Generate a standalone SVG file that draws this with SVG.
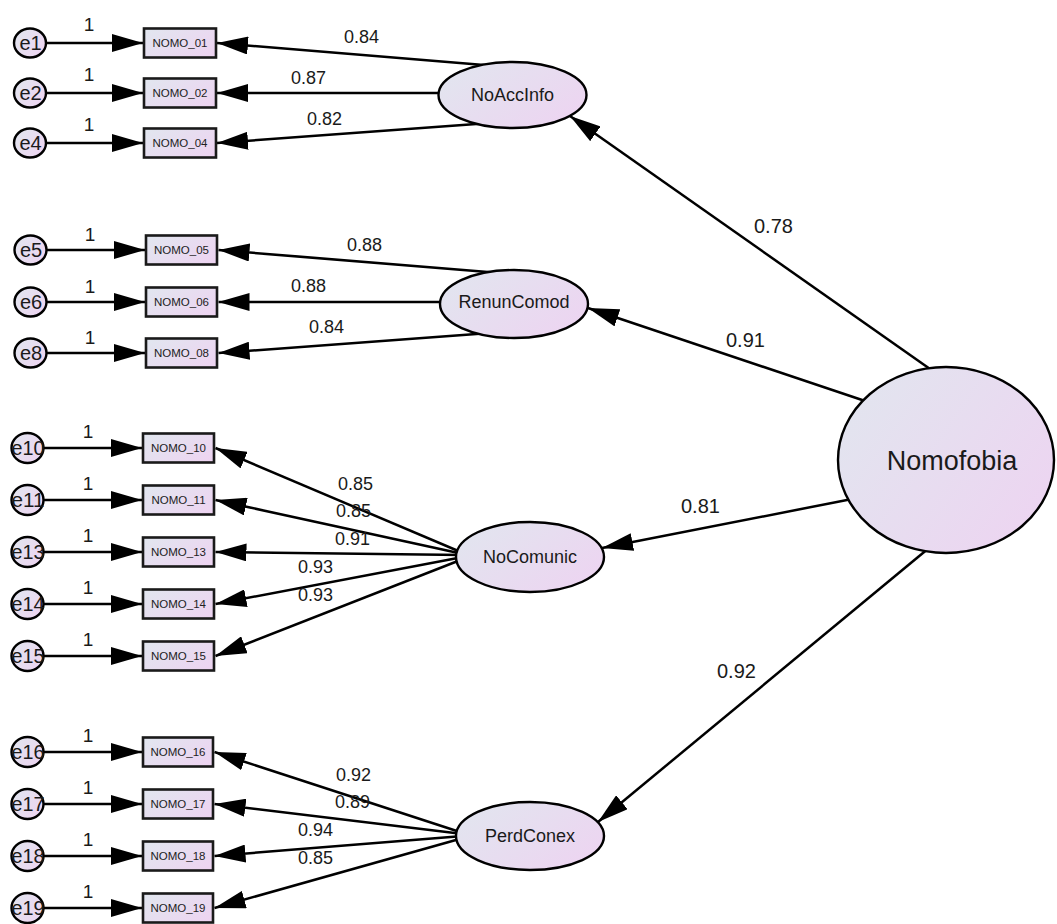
<svg xmlns="http://www.w3.org/2000/svg" width="1057" height="924" viewBox="0 0 1057 924">
<defs>
<linearGradient id="g" x1="0" y1="0.2" x2="1" y2="0.8">
<stop offset="0" stop-color="#e2e5ef"/>
<stop offset="1" stop-color="#edd4f1"/>
</linearGradient>
<marker id="ah" viewBox="0 0 31 18" refX="31" refY="9" markerWidth="31" markerHeight="18" markerUnits="userSpaceOnUse" orient="auto">
<path d="M0,0 L31,9 L0,18 z" fill="#000"/>
</marker>
<style>
.c line{stroke:#000;stroke-width:2.5;marker-end:url(#ah)}
.lat{fill:url(#g);stroke:#000;stroke-width:2.4}
.obs{fill:url(#g);stroke:#1a1a1a;stroke-width:2.6}
.err{fill:url(#g);stroke:#000;stroke-width:2.4}
text{font-family:"Liberation Sans",Arial,sans-serif;fill:#1a1a1a}
.lt{font-size:18px;text-anchor:middle}
.ot{font-size:11.5px;text-anchor:middle;fill:#222}
.et{font-size:20px;text-anchor:middle}
.pl{font-size:18px}
.bl{font-size:20px}
.one{font-size:19px;text-anchor:middle}
</style>
</defs>
<rect width="1057" height="924" fill="#fff"/>

<g id="connectors" class="c">
<line x1="30.5" y1="43" x2="143" y2="43"/>
<line x1="30.5" y1="93" x2="143" y2="93"/>
<line x1="30.5" y1="143" x2="143" y2="143"/>
<line x1="31" y1="250" x2="145" y2="250"/>
<line x1="31" y1="302" x2="145" y2="302"/>
<line x1="31" y1="353" x2="145" y2="353"/>
<line x1="27.5" y1="448" x2="142" y2="448"/>
<line x1="27.5" y1="500" x2="142" y2="500"/>
<line x1="27.5" y1="552" x2="142" y2="552"/>
<line x1="27.5" y1="604" x2="142" y2="604"/>
<line x1="27.5" y1="656" x2="142" y2="656"/>
<line x1="27.5" y1="752" x2="142" y2="752"/>
<line x1="27.5" y1="804" x2="142" y2="804"/>
<line x1="27.5" y1="856" x2="142" y2="856"/>
<line x1="27.5" y1="908" x2="142" y2="908"/>
<line x1="490" y1="65.4" x2="217" y2="43"/>
<line x1="480" y1="93" x2="217" y2="93"/>
<line x1="490" y1="123" x2="217" y2="143"/>
<line x1="500" y1="272.9" x2="218.5" y2="250"/>
<line x1="490" y1="302" x2="218.5" y2="302"/>
<line x1="500" y1="332.3" x2="218.5" y2="353"/>
<line x1="463" y1="553" x2="215.5" y2="448"/>
<line x1="463" y1="554" x2="215.5" y2="500"/>
<line x1="463" y1="555" x2="215.5" y2="552"/>
<line x1="463" y1="557" x2="215.5" y2="604"/>
<line x1="463" y1="559" x2="215.5" y2="656"/>
<line x1="463" y1="833" x2="214.5" y2="752"/>
<line x1="463" y1="834" x2="214.5" y2="804"/>
<line x1="463" y1="836" x2="214.5" y2="856"/>
<line x1="463" y1="838" x2="214.5" y2="908"/>
<line x1="940" y1="376" x2="570" y2="116"/>
<line x1="880" y1="406" x2="588" y2="308"/>
<line x1="870" y1="495.5" x2="602" y2="548"/>
<line x1="935" y1="543" x2="598" y2="822"/>
</g>

<g id="edge-labels">
<text class="one" x="89" y="31">1</text>
<text class="one" x="89" y="81">1</text>
<text class="one" x="89" y="131">1</text>
<text class="one" x="90" y="241">1</text>
<text class="one" x="90" y="293">1</text>
<text class="one" x="90" y="344">1</text>
<text class="one" x="88" y="438">1</text>
<text class="one" x="88" y="490">1</text>
<text class="one" x="88" y="542">1</text>
<text class="one" x="88" y="594">1</text>
<text class="one" x="88" y="646">1</text>
<text class="one" x="88" y="742">1</text>
<text class="one" x="88" y="794">1</text>
<text class="one" x="88" y="846">1</text>
<text class="one" x="88" y="898">1</text>
<text class="pl" x="344" y="43">0.84</text>
<text class="pl" x="291" y="84">0.87</text>
<text class="pl" x="307" y="125">0.82</text>
<text class="pl" x="347" y="251">0.88</text>
<text class="pl" x="291" y="292">0.88</text>
<text class="pl" x="309" y="333">0.84</text>
<text class="pl" x="338" y="490">0.85</text>
<text class="pl" x="336" y="517">0.85</text>
<text class="pl" x="335" y="545">0.91</text>
<text class="pl" x="298" y="573">0.93</text>
<text class="pl" x="298" y="601">0.93</text>
<text class="pl" x="336" y="781">0.92</text>
<text class="pl" x="335" y="808">0.89</text>
<text class="pl" x="298" y="836">0.94</text>
<text class="pl" x="298" y="864">0.85</text>
<text class="bl" x="754" y="233">0.78</text>
<text class="bl" x="726" y="347">0.91</text>
<text class="bl" x="681" y="513">0.81</text>
<text class="bl" x="717" y="678">0.92</text>
</g>

<g id="Nomofobia"><ellipse class="lat" cx="946" cy="460" rx="108" ry="93"/><text x="952" y="470" style="font-size:27px;text-anchor:middle">Nomofobia</text></g>
<g id="NoAccInfo"><ellipse class="lat" cx="512.5" cy="95" rx="74" ry="33"/><text class="lt" x="512.5" y="101">NoAccInfo</text></g>
<g id="RenunComod"><ellipse class="lat" cx="514" cy="304" rx="74" ry="34"/><text class="lt" x="514" y="308">RenunComod</text></g>
<g id="NoComunic"><ellipse class="lat" cx="530" cy="557" rx="74" ry="35"/><text class="lt" x="530" y="563">NoComunic</text></g>
<g id="PerdConex"><ellipse class="lat" cx="530" cy="836" rx="74" ry="34"/><text class="lt" x="530" y="842">PerdConex</text></g>

<g id="NOMO_01"><rect class="obs" x="144" y="28.5" width="72" height="29"/><text class="ot" x="180" y="47">NOMO_01</text></g>
<g id="NOMO_02"><rect class="obs" x="144" y="78.5" width="72" height="29"/><text class="ot" x="180" y="97">NOMO_02</text></g>
<g id="NOMO_04"><rect class="obs" x="144" y="128.5" width="72" height="29"/><text class="ot" x="180" y="147">NOMO_04</text></g>
<g id="NOMO_05"><rect class="obs" x="146" y="235.5" width="71" height="29"/><text class="ot" x="181.5" y="254">NOMO_05</text></g>
<g id="NOMO_06"><rect class="obs" x="146" y="287.5" width="71" height="29"/><text class="ot" x="181.5" y="306">NOMO_06</text></g>
<g id="NOMO_08"><rect class="obs" x="146" y="338.5" width="71" height="29"/><text class="ot" x="181.5" y="357">NOMO_08</text></g>
<g id="NOMO_10"><rect class="obs" x="143" y="433.5" width="71" height="29"/><text class="ot" x="178.5" y="452">NOMO_10</text></g>
<g id="NOMO_11"><rect class="obs" x="143" y="485.5" width="71" height="29"/><text class="ot" x="178.5" y="504">NOMO_11</text></g>
<g id="NOMO_13"><rect class="obs" x="143" y="537.5" width="71" height="29"/><text class="ot" x="178.5" y="556">NOMO_13</text></g>
<g id="NOMO_14"><rect class="obs" x="143" y="589.5" width="71" height="29"/><text class="ot" x="178.5" y="608">NOMO_14</text></g>
<g id="NOMO_15"><rect class="obs" x="143" y="641.5" width="71" height="29"/><text class="ot" x="178.5" y="660">NOMO_15</text></g>
<g id="NOMO_16"><rect class="obs" x="143" y="737.5" width="70" height="29"/><text class="ot" x="178" y="756">NOMO_16</text></g>
<g id="NOMO_17"><rect class="obs" x="143" y="789.5" width="70" height="29"/><text class="ot" x="178" y="808">NOMO_17</text></g>
<g id="NOMO_18"><rect class="obs" x="143" y="841.5" width="70" height="29"/><text class="ot" x="178" y="860">NOMO_18</text></g>
<g id="NOMO_19"><rect class="obs" x="143" y="893.5" width="70" height="29"/><text class="ot" x="178" y="912">NOMO_19</text></g>

<g id="e1"><ellipse class="err" cx="30" cy="43" rx="16" ry="14.5"/><text class="et" x="30.5" y="50">e1</text></g>
<g id="e2"><ellipse class="err" cx="30" cy="93" rx="16" ry="14.5"/><text class="et" x="30.5" y="100">e2</text></g>
<g id="e4"><ellipse class="err" cx="30" cy="143" rx="16" ry="14.5"/><text class="et" x="30.5" y="150">e4</text></g>
<g id="e5"><ellipse class="err" cx="30.5" cy="250" rx="16" ry="14.5"/><text class="et" x="31" y="257">e5</text></g>
<g id="e6"><ellipse class="err" cx="30.5" cy="302" rx="16" ry="14.5"/><text class="et" x="31" y="309">e6</text></g>
<g id="e8"><ellipse class="err" cx="30.5" cy="353" rx="16" ry="14.5"/><text class="et" x="31" y="360">e8</text></g>
<g id="e10"><ellipse class="err" cx="27.5" cy="448" rx="16" ry="15"/><text class="et" x="28" y="455" textLength="33" lengthAdjust="spacingAndGlyphs">e10</text></g>
<g id="e11"><ellipse class="err" cx="27.5" cy="500" rx="16" ry="15"/><text class="et" x="28" y="507" textLength="33" lengthAdjust="spacingAndGlyphs">e11</text></g>
<g id="e13"><ellipse class="err" cx="27.5" cy="552" rx="16" ry="15"/><text class="et" x="28" y="559" textLength="33" lengthAdjust="spacingAndGlyphs">e13</text></g>
<g id="e14"><ellipse class="err" cx="27.5" cy="604" rx="16" ry="15"/><text class="et" x="28" y="611" textLength="33" lengthAdjust="spacingAndGlyphs">e14</text></g>
<g id="e15"><ellipse class="err" cx="27.5" cy="656" rx="16" ry="15"/><text class="et" x="28" y="663" textLength="33" lengthAdjust="spacingAndGlyphs">e15</text></g>
<g id="e16"><ellipse class="err" cx="27.5" cy="752" rx="16" ry="15"/><text class="et" x="28" y="759" textLength="33" lengthAdjust="spacingAndGlyphs">e16</text></g>
<g id="e17"><ellipse class="err" cx="27.5" cy="804" rx="16" ry="15"/><text class="et" x="28" y="811" textLength="33" lengthAdjust="spacingAndGlyphs">e17</text></g>
<g id="e18"><ellipse class="err" cx="27.5" cy="856" rx="16" ry="15"/><text class="et" x="28" y="863" textLength="33" lengthAdjust="spacingAndGlyphs">e18</text></g>
<g id="e19"><ellipse class="err" cx="27.5" cy="908" rx="16" ry="15"/><text class="et" x="28" y="915" textLength="33" lengthAdjust="spacingAndGlyphs">e19</text></g>
</svg>
